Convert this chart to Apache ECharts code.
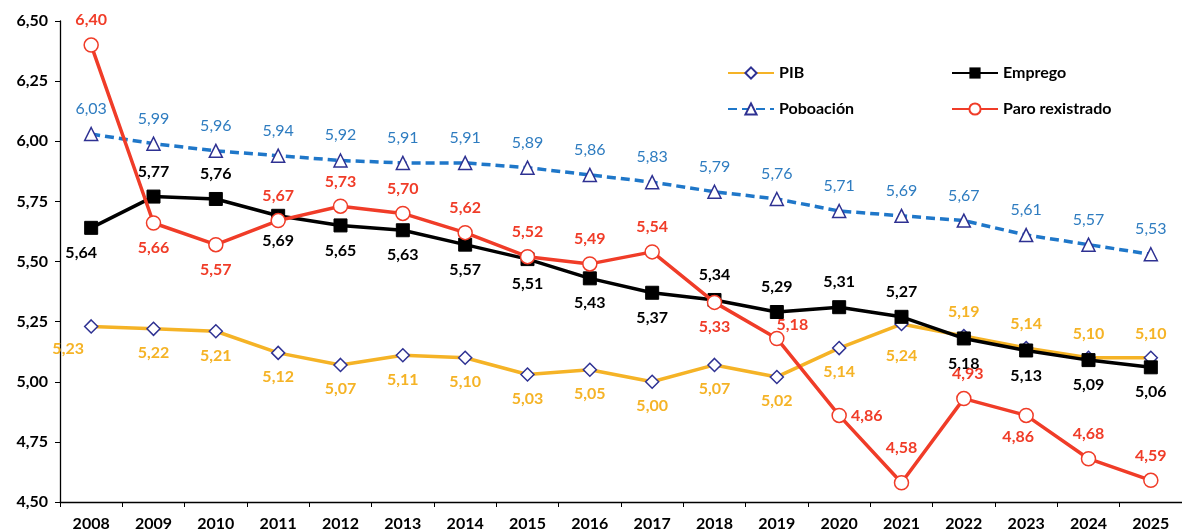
<!DOCTYPE html>
<html>
<head>
<meta charset="utf-8">
<script src="https://cdn.jsdelivr.net/npm/echarts@6/dist/echarts.min.js"></script>
<style>
  html, body { margin: 0; padding: 0; background: #fff; }
  #chart { width: 1182px; height: 532px; }
</style>
</head>
<body>
<div id="chart"></div>
<script>
// datos
var years = ['2008','2009','2010','2011','2012','2013','2014','2015','2016','2017','2018','2019','2020','2021','2022','2023','2024','2025'];
var pib = [5.23, 5.22, 5.21, 5.12, 5.07, 5.11, 5.10, 5.03, 5.05, 5.00, 5.07, 5.02, 5.14, 5.24, 5.19, 5.14, 5.10, 5.10];
var emprego = [5.64, 5.77, 5.76, 5.69, 5.65, 5.63, 5.57, 5.51, 5.43, 5.37, 5.34, 5.29, 5.31, 5.27, 5.18, 5.13, 5.09, 5.06];
var poboacion = [6.03, 5.99, 5.96, 5.94, 5.92, 5.91, 5.91, 5.89, 5.86, 5.83, 5.79, 5.76, 5.71, 5.69, 5.67, 5.61, 5.57, 5.53];
var paro = [6.40, 5.66, 5.57, 5.67, 5.73, 5.70, 5.62, 5.52, 5.49, 5.54, 5.33, 5.18, 4.86, 4.58, 4.93, 4.86, 4.68, 4.59];
var yTicks = [4.50, 4.75, 5.00, 5.25, 5.50, 5.75, 6.00, 6.25, 6.50];

// onde vai cada etiqueta (t = enriba, b = embaixo, r = dereita)
var pibPos     = 'bbbbbbbbbbbbbbtttt';
var empregoPos = 'bttbbbbbbbttttbbbb';
var paroPos    = 'tbbtttttttbrrttbtt';
var extraOffset = {
    pib: {0: [-23, -2], 13: [0, 8]},
    emprego: {0: [-10, 0]},
    paro: {11: [-12, -14], 13: [0, -10], 14: [4, 0], 15: [-8, -3]}
};

var FONT = 'Lato, "Open Sans", sans-serif';
function fmt(v) { return v.toFixed(2).replace('.', ','); }

function buildData(vals, pos, offs) {
    return vals.map(function (v, i) {
        var p = pos ? pos.charAt(i) : 't';
        var lab = {position: p === 't' ? 'top' : (p === 'b' ? 'bottom' : 'right')};
        if (p === 'r') lab.distance = 4;
        if (offs && offs[i]) lab.offset = offs[i];
        return {value: v, label: lab};
    });
}

var chart = echarts.init(document.getElementById('chart'));

var legendText = {fontFamily: FONT, fontWeight: 'bold', fontSize: 16, color: '#000'};

var option = {
    backgroundColor: '#fff',
    animation: false,
    grid: {left: 60, right: -10, top: 21, bottom: 30},
    legend: [
        {
            data: ['PIB', 'Poboación'],
            orient: 'vertical', left: 722, top: 60,
            itemWidth: 46, itemHeight: 14, itemGap: 20,
            textStyle: legendText
        },
        {
            data: ['Emprego', 'Paro rexistrado'],
            orient: 'vertical', left: 946, top: 60,
            itemWidth: 46, itemHeight: 14, itemGap: 20,
            textStyle: legendText
        }
    ],
    xAxis: {
        type: 'category',
        data: years,
        boundaryGap: true,
        axisLine: {lineStyle: {color: '#000', width: 1.3}},
        axisTick: {show: true, length: 5, lineStyle: {color: '#000'}},
        axisLabel: {fontFamily: FONT, fontWeight: 'bold', fontSize: 16, color: '#000', margin: 14}
    },
    yAxis: {
        type: 'value',
        min: yTicks[0],
        max: yTicks[yTicks.length - 1],
        interval: 0.25,
        splitLine: {show: false},
        axisLine: {show: true, lineStyle: {color: '#000', width: 1.3}},
        axisTick: {show: true, length: 5, lineStyle: {color: '#000'}},
        axisLabel: {
            fontFamily: FONT, fontWeight: 'bold', fontSize: 16, color: '#000', margin: 12,
            formatter: function (v) { return fmt(v); }
        }
    },
    series: [
        {
            name: 'PIB',
            type: 'line',
            data: buildData(pib, pibPos, extraOffset.pib),
            symbol: 'diamond',
            symbolSize: 13,
            itemStyle: {color: '#fff', borderColor: '#2E3192', borderWidth: 1.5},
            lineStyle: {color: '#F5B326', width: 3.5},
            label: {
                show: true, distance: 9, formatter: function (p) { return fmt(p.value); },
                fontFamily: FONT, fontWeight: 'bold', fontSize: 16, color: '#F5B326'
            },
            z: 2
        },
        {
            name: 'Poboación',
            type: 'line',
            data: buildData(poboacion, null, null),
            symbol: 'triangle',
            symbolSize: 13,
            itemStyle: {color: '#fff', borderColor: '#2E3192', borderWidth: 1.5},
            lineStyle: {color: '#1F77C9', width: 3.5, type: [9, 5]},
            label: {
                show: true, distance: 10, formatter: function (p) { return fmt(p.value); },
                fontFamily: FONT, fontSize: 16, color: '#2E7CC0'
            },
            z: 3
        },
        {
            name: 'Emprego',
            type: 'line',
            data: buildData(emprego, empregoPos, extraOffset.emprego),
            symbol: 'rect',
            symbolSize: 13,
            itemStyle: {color: '#000', borderColor: '#000'},
            lineStyle: {color: '#000', width: 3.5},
            label: {
                show: true, distance: 10, formatter: function (p) { return fmt(p.value); },
                fontFamily: FONT, fontWeight: 'bold', fontSize: 16, color: '#000'
            },
            z: 4
        },
        {
            name: 'Paro rexistrado',
            type: 'line',
            data: buildData(paro, paroPos, extraOffset.paro),
            symbol: 'circle',
            symbolSize: 14,
            itemStyle: {color: '#fff', borderColor: '#F03C28', borderWidth: 1.5},
            lineStyle: {color: '#F03C28', width: 3.5},
            label: {
                show: true, distance: 9, formatter: function (p) { return fmt(p.value); },
                fontFamily: FONT, fontWeight: 'bold', fontSize: 16, color: '#F03C28'
            },
            z: 5
        }
    ]
};

chart.setOption(option);
</script>
</body>
</html>
